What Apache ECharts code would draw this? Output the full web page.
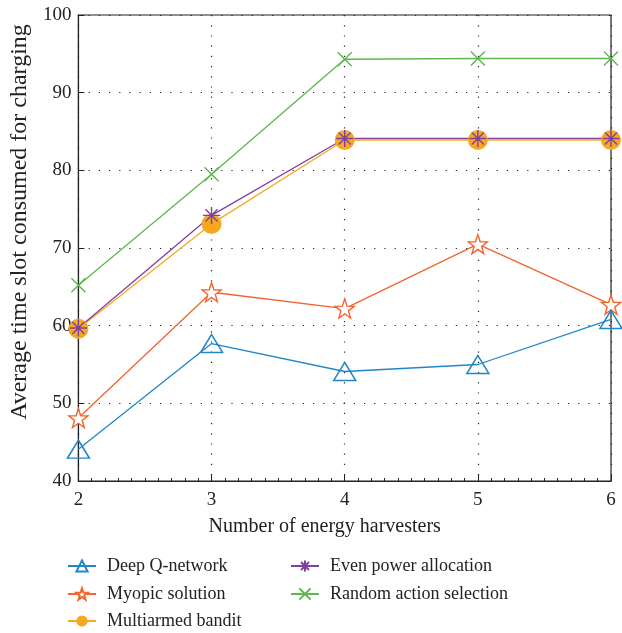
<!DOCTYPE html>
<html><head><meta charset="utf-8">
<script src="https://cdn.jsdelivr.net/npm/echarts@6/dist/echarts.min.js"></script>
<style>html,body{margin:0;padding:0;background:#fff}#c{width:622px;height:633px}</style>
</head><body><div id="c"></div>
<script>
const xValues = [2, 3, 4, 5, 6];
const deepQ = [44.1, 57.7, 54.1, 55.0, 60.8];
const myopic = [48.1, 64.3, 62.2, 70.5, 62.7];
const multiarmed = [59.6, 73.1, 83.9, 83.9, 83.9];
const evenPower = [59.7, 74.2, 84.1, 84.1, 84.1];
const randomAction = [65.2, 79.5, 94.3, 94.4, 94.4];
const names = ['Deep Q-network','Myopic solution','Multiarmed bandit','Even power allocation','Random action selection'];

const starPath = 'path://M50,0L61.8,33.8L97.6,34.5L69,56.2L79.4,90.5L50,70L20.6,90.5L31,56.2L2.4,34.5L38.2,33.8Z';
const asteriskPath = 'path://M50,0L50,100M0,50L100,50M14.6,14.6L85.4,85.4M14.6,85.4L85.4,14.6';
const xPath = 'path://M0,0L100,100M0,100L100,0';
const font = 'Liberation Serif';

function pairs(arr){ return xValues.map((x,i)=>[x,arr[i]]); }
function leg(name, left, centerY){
  return {data:[name],left:left,top:centerY-8,itemWidth:28,itemHeight:14,padding:0,
    textStyle:{fontFamily:font,fontSize:18,color:'#222',padding:[0,0,0,6]}};
}

const chart = echarts.init(document.getElementById('c'));
chart.setOption({
  animation:false,
  textStyle:{fontFamily:font},
  grid:{left:78,right:11,top:15,bottom:152,show:true,borderColor:'#222',borderWidth:1.2},
  xAxis:{type:'value',min:2,max:6,interval:1,
    name:'Number of energy harvesters',nameLocation:'middle',nameGap:36,
    nameTextStyle:{fontFamily:font,fontSize:20,color:'#222',padding:[0,40,0,0]},
    axisLine:{lineStyle:{color:'#222',width:1.2}},
    axisTick:{inside:true,length:6,lineStyle:{color:'#222'}},
    minorTick:{show:true,splitNumber:10,length:3,lineStyle:{color:'#222'}},
    axisLabel:{fontFamily:font,fontSize:19,color:'#222',margin:10},
    splitLine:{show:true,lineStyle:{color:'#222',type:[1.2,9],width:1.2}}},
  yAxis:{type:'value',min:40,max:100,interval:10,
    name:'Average time slot consumed for charging',nameLocation:'middle',nameGap:45,
    nameTextStyle:{fontFamily:font,fontSize:24,color:'#222',padding:[0,0,0,52]},
    axisLine:{show:true,lineStyle:{color:'#222',width:1.2}},
    axisTick:{show:true,inside:true,length:6,lineStyle:{color:'#222'}},
    axisLabel:{fontFamily:font,fontSize:19,color:'#222',margin:7},
    splitLine:{show:true,lineStyle:{color:'#222',type:[1.2,9],width:1.2}}},
  legend:[
    leg(names[0],67,565),
    leg(names[1],67,593),
    leg(names[2],67,620),
    leg(names[3],290,565),
    leg(names[4],290,593)
  ],
  series:[
    {name:names[4],type:'line',data:pairs(randomAction),symbol:xPath,symbolSize:14,
      lineStyle:{color:'#5cb84a',width:1.3},itemStyle:{color:'none',borderColor:'#5cb84a',borderWidth:1.4}},
    {name:names[2],type:'line',data:pairs(multiarmed),symbol:'circle',symbolSize:20,
      lineStyle:{color:'#f7a823',width:1.3},itemStyle:{color:'#f7a823'}},
    {name:names[3],type:'line',data:pairs(evenPower),symbol:asteriskPath,symbolSize:17,
      lineStyle:{color:'#8040a0',width:1.3},itemStyle:{color:'none',borderColor:'#8040a0',borderWidth:1.4}},
    {name:names[1],type:'line',data:pairs(myopic),symbol:starPath,symbolSize:19,
      lineStyle:{color:'#f0642d',width:1.3},itemStyle:{color:'#fff',borderColor:'#f0642d',borderWidth:1.4}},
    {name:names[0],type:'line',data:pairs(deepQ),symbol:'triangle',symbolSize:[22,18],
      lineStyle:{color:'#2186c8',width:1.3},itemStyle:{color:'none',borderColor:'#2186c8',borderWidth:1.5}}
  ]
});
</script></body></html>
